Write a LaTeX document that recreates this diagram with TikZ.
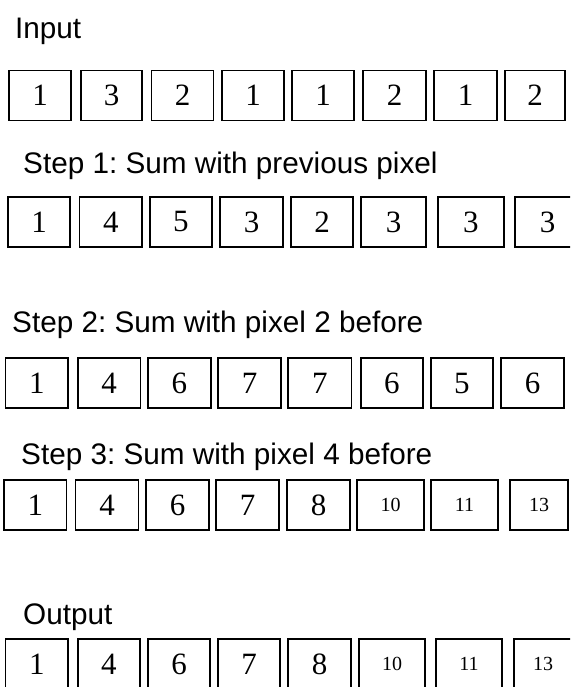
\documentclass[tikz,border=0pt]{standalone}
\usepackage{fontspec}
\setmainfont{Liberation Sans}
\newfontfamily\numfont{Liberation Serif}
\newcommand\twodig{\fontsize{20}{22}\selectfont}
\frenchspacing
\begin{document}
\begin{tikzpicture}[x=1pt,y=-1pt,
  cell/.style={draw=black, line width=1.8pt, inner sep=0pt, minimum height=50pt, font=\numfont\fontsize{31}{33}\selectfont},
  lbl/.style={anchor=base west, inner sep=0pt, font=\fontsize{29.7}{34}\selectfont}]
\useasboundingbox (0,0) rectangle (570,687);
\clip (0,0) rectangle (570,687);
\fill[white] (0,0) rectangle (570,687);
% labels
\node[lbl] (tin) at (15,39) {Input};
\node[lbl] (ts1) at (23,173) {Step 1: Sum with previous pixel};
\node[lbl] (ts2) at (12,332) {Step 2: Sum with pixel 2 before};
\node[lbl] (ts3) at (21,464) {Step 3: Sum with pixel 4 before};
\node[lbl] (tout) at (23,624) {Output};
% row 1
\foreach \l/\r/\t [count=\i] in {9/71/1, 81/142/3, 151.5/213.5/2, 222/284/1, 292/354/1, 363/426/2, 434/497/1, 505/565/2}{
  \pgfmathsetmacro\w{\r-\l}\pgfmathsetmacro\c{(\l+\r)/2}
  \node[cell, minimum width=\w pt] (a\i) at (\c,95.5) {\t};
}
% row 2
\foreach \l/\r/\t [count=\i] in {8/70/1, 79.5/142/4, 149.6/212/5, 220/283/3, 291/353/2, 361/426/3, 438/503.6/3, 515/580/3}{
  \pgfmathsetmacro\w{\r-\l}\pgfmathsetmacro\c{(\l+\r)/2}
  \node[cell, minimum width=\w pt] (b\i) at (\c,222) {\t};
}
% row 3
\foreach \l/\r/\t [count=\i] in {5.5/68/1, 77.7/140.5/4, 148/210.6/6, 218/281/7, 288/351.5/7, 360.6/423/6, 430.7/493/5, 501/564/6}{
  \pgfmathsetmacro\w{\r-\l}\pgfmathsetmacro\c{(\l+\r)/2}
  \node[cell, minimum width=\w pt] (c\i) at (\c,383) {\t};
}
% row 4
\foreach \l/\r/\t [count=\i] in {4/66.5/1, 75.5/138.5/4, 146/209/6, 216/279/7, 287/350/8, 357/424/{\twodig 10}, 431/498/{\twodig 11}, 510/568/{\twodig 13}}{
  \pgfmathsetmacro\w{\r-\l}\pgfmathsetmacro\c{(\l+\r)/2}
  \node[cell, minimum width=\w pt] (d\i) at (\c,505) {\t};
}
% row 5
\foreach \l/\r/\t [count=\i] in {5.5/68/1, 77.7/140/4, 148/210/6, 218/280/7, 288/351/8, 359/425/{\twodig 10}, 436/502/{\twodig 11}, 514/572/{\twodig 13}}{
  \pgfmathsetmacro\w{\r-\l}\pgfmathsetmacro\c{(\l+\r)/2}
  \node[cell, minimum width=\w pt] (e\i) at (\c,664) {\t};
}
\end{tikzpicture}
\end{document}
